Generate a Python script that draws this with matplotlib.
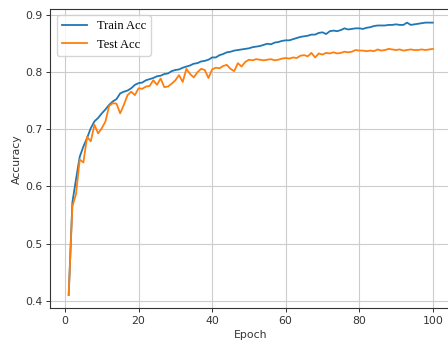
import matplotlib
matplotlib.use('Agg')
import matplotlib.pyplot as plt
import numpy as np

epochs = np.arange(1, 101)

train_acc = [
    0.410, 0.572, 0.613, 0.652, 0.670, 0.685, 0.702, 0.714, 0.720, 0.728,
    0.735, 0.743, 0.749, 0.753, 0.763, 0.766, 0.768, 0.772, 0.778, 0.781,
    0.782, 0.786, 0.788, 0.790, 0.793, 0.794, 0.797, 0.798, 0.802, 0.804,
    0.805, 0.808, 0.810, 0.812, 0.815, 0.816, 0.819, 0.820, 0.822, 0.826,
    0.826, 0.830, 0.832, 0.835, 0.836, 0.838, 0.839, 0.840, 0.841, 0.842,
    0.844, 0.845, 0.846, 0.848, 0.850, 0.849, 0.852, 0.853, 0.855, 0.856,
    0.856, 0.858, 0.860, 0.862, 0.863, 0.864, 0.866, 0.866, 0.869, 0.870,
    0.867, 0.872, 0.873, 0.872, 0.874, 0.877, 0.875, 0.876, 0.877, 0.877,
    0.876, 0.878, 0.879, 0.881, 0.882, 0.882, 0.882, 0.883, 0.883, 0.884,
    0.883, 0.883, 0.887, 0.883, 0.884, 0.885, 0.886, 0.887, 0.887, 0.887,
]

test_acc = [
    0.410, 0.565, 0.587, 0.647, 0.642, 0.687, 0.679, 0.708, 0.693, 0.702,
    0.714, 0.741, 0.746, 0.745, 0.728, 0.743, 0.760, 0.766, 0.760, 0.772,
    0.771, 0.775, 0.776, 0.786, 0.778, 0.789, 0.774, 0.775, 0.780, 0.786,
    0.795, 0.783, 0.806, 0.797, 0.791, 0.800, 0.806, 0.804, 0.790, 0.805,
    0.808, 0.807, 0.811, 0.813, 0.806, 0.802, 0.816, 0.810, 0.818, 0.822,
    0.821, 0.823, 0.822, 0.821, 0.822, 0.823, 0.821, 0.822, 0.824, 0.825,
    0.824, 0.826, 0.825, 0.829, 0.830, 0.828, 0.834, 0.826, 0.833, 0.831,
    0.834, 0.833, 0.835, 0.833, 0.834, 0.836, 0.835, 0.836, 0.839, 0.838,
    0.838, 0.837, 0.838, 0.837, 0.840, 0.838, 0.839, 0.841, 0.840, 0.839,
    0.840, 0.838, 0.839, 0.840, 0.839, 0.839, 0.840, 0.839, 0.840, 0.841,
]

plt.rcParams.update({
    "font.size": 7.8,
    "axes.labelsize": 7.8,
    "xtick.labelsize": 7.8,
    "ytick.labelsize": 7.8,
})

fig = plt.figure(figsize=(4.48, 3.44), dpi=100)
# the original image is cropped on the right, so the axes run past the edge
ax = fig.add_axes([0.1127, 0.1032, 0.894, 0.8706])

ax.plot(epochs, train_acc, color='#1f77b4', linewidth=1.3, label='Train Acc')
ax.plot(epochs, test_acc, color='#ff7f0e', linewidth=1.3, label='Test Acc')

ax.set_xlabel('Epoch', color='#333333', labelpad=3)
ax.set_ylabel('Accuracy', color='#333333', labelpad=3)
ax.tick_params(colors='#333333', labelcolor='#333333', length=3, width=0.7, pad=2.5)
ax.set_xticks([0, 20, 40, 60, 80, 100])
ax.set_yticks([0.4, 0.5, 0.6, 0.7, 0.8, 0.9])
ax.grid(True, color='#cccccc', linewidth=0.8)
for sp in ax.spines.values():
    sp.set_color('#333333')
    sp.set_linewidth(0.8)

ax.legend(loc='upper left', prop={'family': 'Liberation Serif', 'size': 9},
          handlelength=2.0, borderaxespad=0.5)

fig.savefig('out.png', dpi=100)
